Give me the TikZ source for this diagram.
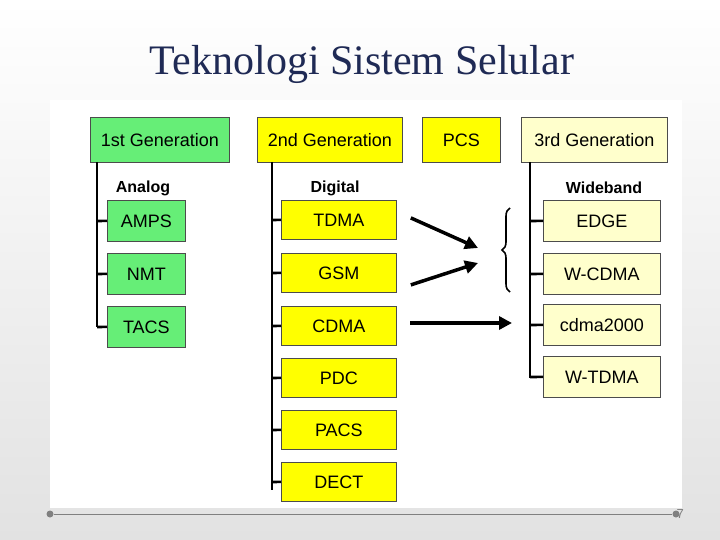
\documentclass[tikz,border=0pt]{standalone}
\usepackage{fontspec}
\setmainfont{Liberation Sans}
\newfontfamily\titlefont{Liberation Serif}
\usetikzlibrary{decorations.pathreplacing,arrows.meta}
\definecolor{gr}{HTML}{66EE77}
\definecolor{ye}{HTML}{FFFF00}
\definecolor{ly}{HTML}{FFFFCC}
\definecolor{bg}{HTML}{E2E2E2}
\definecolor{tc}{HTML}{1F2A55}
\tikzset{
 bx/.style={draw=black!70, line width=0.8pt, minimum width=#1, minimum height=41pt, inner sep=0pt, font=\fontsize{18}{20}\selectfont},
 tree/.style={line width=2.6pt},
 lab/.style={font=\bfseries\fontsize{16}{18}\selectfont},
 ar/.style={line width=3.5pt,-{Triangle[length=13pt,width=13pt]}}
}
\begin{document}
\begin{tikzpicture}[x=1pt,y=-1pt]
\useasboundingbox (0,0) rectangle (720,540);
\shade[top color=white,bottom color=bg] (0,0) rectangle (720,540);
\fill[white] (50,100) rectangle (682,508);
\node[font=\titlefont\fontsize{42}{46}\selectfont,text=tc] (title) at (362,64) {Teknologi Sistem Selular};
\draw[gray,line width=0.8pt] (54,514) -- (672,514);
\fill[gray] (50,514) circle (3.5);
\fill[gray] (676,514) circle (3.5);
\node[font=\fontsize{13}{15}\selectfont,text=gray,anchor=west] (pg) at (673,514) {7};
% headers
\node[bx=139pt,minimum height=45pt,fill=gr,anchor=north west] (g1) at (90,117) {1st Generation};
\node[bx=145pt,minimum height=45pt,fill=ye,anchor=north west] (g2) at (257,117) {2nd Generation};
\node[bx=78pt,minimum height=45pt,fill=ye,anchor=north west] (pcs) at (422,117) {PCS};
\node[bx=146pt,minimum height=45pt,fill=ly,anchor=north west] (g3) at (521,117) {3rd Generation};
\node[lab] (an) at (143,188) {Analog};
\node[lab] (dg) at (335,188) {Digital};
\node[lab] (wb) at (604,188) {Wideband};
% trees
\draw[tree] (97,162) -- (97,327);
\draw[tree] (272,162) -- (272,490);
\draw[tree] (530,162) -- (530,378);
\foreach \n/\t/\y in {amps/AMPS/200,nmt/NMT/253,tacs/TACS/306}{
 \node[bx=78pt,fill=gr,anchor=north west] (\n) at (107,\y) {\t};
 \draw[tree] (97,\y+21) -- (\n.west);
}
\foreach \n/\t/\y in {tdma/TDMA/200,gsm/GSM/253,cdma/CDMA/306,pdc/PDC/358,pacs/PACS/410,dect/DECT/462}{
 \node[bx=115pt,minimum height=39pt,fill=ye,anchor=north west] (\n) at (281,\y) {\t};
 \draw[tree] (272,\y+20) -- (\n.west);
}
\foreach \n/\t/\y in {edge/EDGE/200,wcdma/W-CDMA/253,c2k/cdma2000/304,wtdma/W-TDMA/356}{
 \node[bx=117pt,fill=ly,anchor=north west] (\n) at (543,\y) {\t};
 \draw[tree] (530,\y+21) -- (\n.west);
}
\coordinate (c3) at (512,323);
\draw[ar] ([xshift=14pt,yshift=2pt]tdma.east) -- (478,248);
\draw[ar] ([xshift=14pt,yshift=-12pt]gsm.east) -- (478,263);
\draw[ar] (410,323) -- (c3);
\draw[line width=1.6pt,decorate,decoration={brace,amplitude=8pt}] (510,292) -- (510,208);
\end{tikzpicture}
\end{document}
